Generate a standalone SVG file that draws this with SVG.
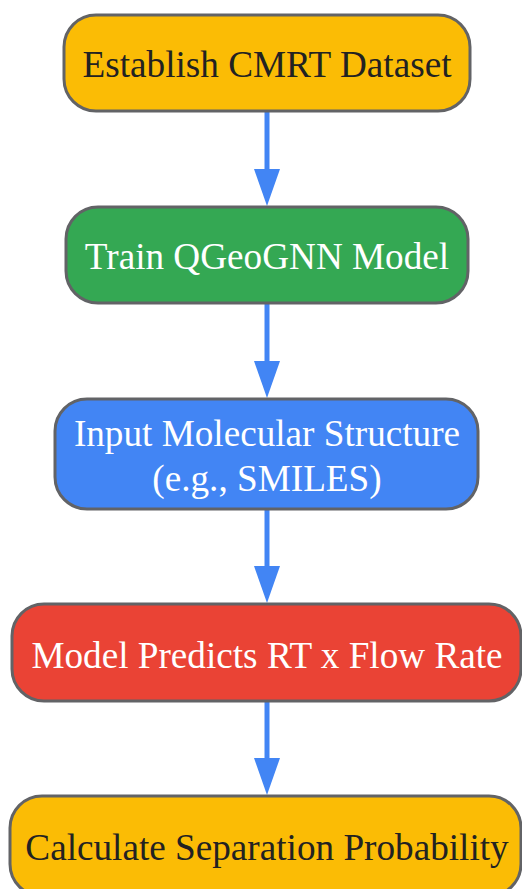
<svg xmlns="http://www.w3.org/2000/svg" width="522" height="889" viewBox="0 0 522 889">
<defs>
<style>
.box{stroke:#626366;stroke-width:3}
.t{font-family:"Liberation Serif","Times New Roman",serif;font-size:37.2px;text-anchor:middle}
.dark{fill:#222222}
.light{fill:#ffffff}
.edge{stroke:#4285F4;stroke-width:5;fill:none}
.head{fill:#4285F4}
</style>
</defs>
<rect width="522" height="889" fill="#ffffff"/>
<g id="connectors">
<line class="edge" x1="267" y1="112" x2="267" y2="170"/>
<path class="head" d="M254,169 L280,169 L267,206 Z"/>
<line class="edge" x1="267" y1="304" x2="267" y2="362"/>
<path class="head" d="M254,361 L280,361 L267,398 Z"/>
<line class="edge" x1="267" y1="510" x2="267" y2="567"/>
<path class="head" d="M254,566 L280,566 L267,603 Z"/>
<line class="edge" x1="267" y1="702" x2="267" y2="759"/>
<path class="head" d="M254,758 L280,758 L267,795 Z"/>
</g>
<g id="node1">
<rect class="box" x="64" y="15" width="406" height="96" rx="32" fill="#FBBC05"/>
<text class="t dark" x="267" y="77">Establish CMRT Dataset</text>
</g>
<g id="node2">
<rect class="box" x="66" y="207" width="402" height="96" rx="32" fill="#34A853"/>
<text class="t light" x="267" y="269">Train QGeoGNN Model</text>
</g>
<g id="node3">
<rect class="box" x="55" y="399" width="423" height="110" rx="32" fill="#4285F4"/>
<text class="t light" x="267" y="446">Input Molecular Structure</text>
<text class="t light" x="267" y="491">(e.g., SMILES)</text>
</g>
<g id="node4">
<rect class="box" x="12" y="604" width="509" height="97" rx="32" fill="#EA4335"/>
<text class="t light" x="267" y="668">Model Predicts RT x Flow Rate</text>
</g>
<g id="node5">
<rect class="box" x="10" y="796" width="511" height="100" rx="32" fill="#FBBC05"/>
<text class="t dark" x="267" y="860">Calculate Separation Probability</text>
</g>
</svg>
